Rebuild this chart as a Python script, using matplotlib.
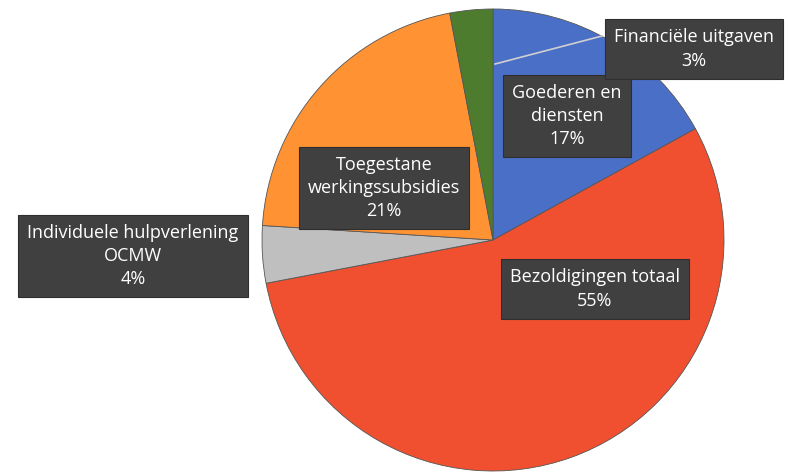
import matplotlib.pyplot as plt

# --- data ---
categories = ["Goederen en\ndiensten", "Bezoldigingen totaal", "Individuele hulpverlening\nOCMW",
              "Toegestane\nwerkingssubsidies", "Financiële uitgaven"]
shares = [17, 55, 4, 21, 3]
colors = ["#4A6FC6", "#F0502F", "#BFBFBF", "#FF9232", "#4D7C2E"]

# label box centres (pixels from top-left of the image)
label_pos = [(567, 116), (595, 289), (133, 256), (384, 188), (694, 49)]

W, H = 788, 474
fig = plt.figure(figsize=(W / 100, H / 100), dpi=100)
ax = fig.add_axes([0, 0, 1, 1])

ax.pie(shares, colors=colors, startangle=90, counterclock=False,
       center=(493, H - 240), radius=231, frame=True,
       wedgeprops=dict(linewidth=0.6, edgecolor="#555555"))
ax.set_xlim(0, W)
ax.set_ylim(0, H)
ax.set_aspect("equal")
ax.axis("off")

# leader line for the small slice
ax.plot([495, 602], [H - 64, H - 36], color="#D0D0D0", lw=1.2, zorder=4)

for cat, val, (px, py) in zip(categories, shares, label_pos):
    ax.text(px, H - py, f"{cat}\n{val}%", ha="center", va="center",
            color="white", fontsize=13, family=["Open Sans", "DejaVu Sans"],
            linespacing=1.38, zorder=5,
            bbox=dict(boxstyle="square,pad=0.5", facecolor="#404040", edgecolor="#2e2e2e", lw=0.8))

fig.savefig("out.png", dpi=100)
